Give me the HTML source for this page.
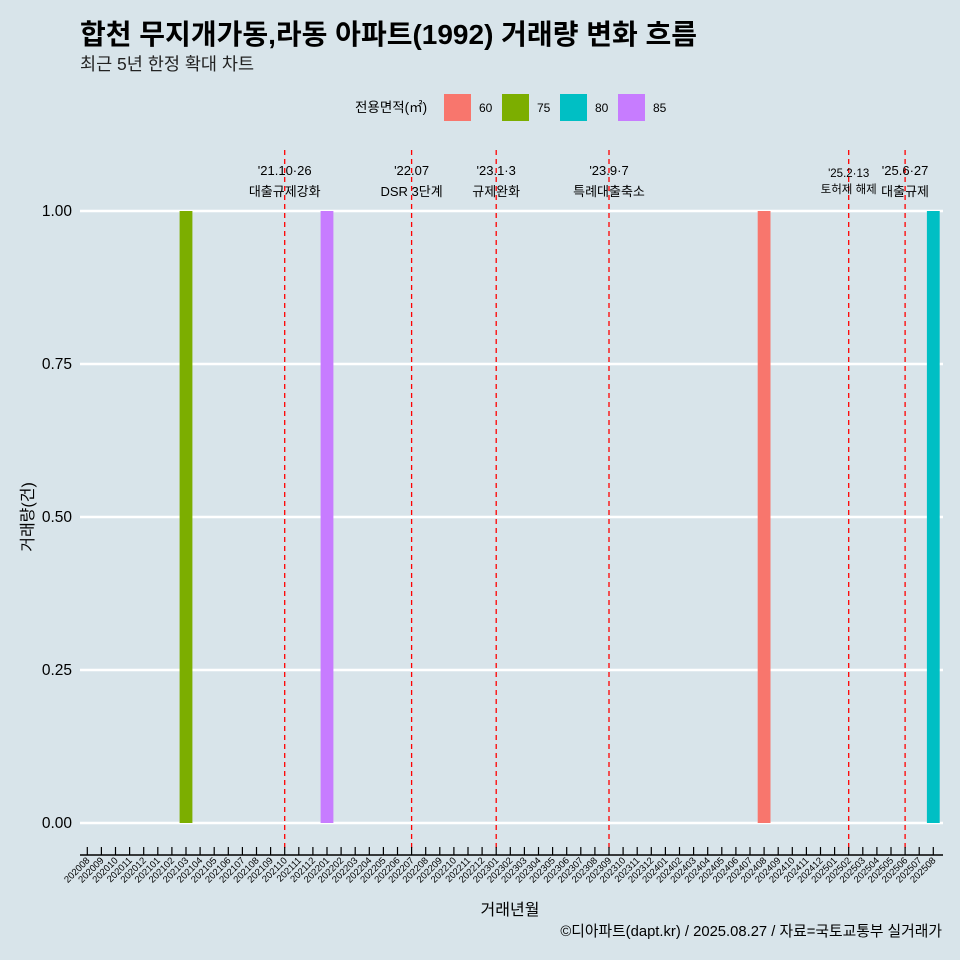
<!DOCTYPE html>
<html><head><meta charset="utf-8"><style>
body{margin:0;background:#d8e4ea;}
svg{display:block;font-family:"Liberation Sans","Noto Sans CJK KR",sans-serif;}
</style></head><body>
<svg id="c" width="960" height="960" viewBox="0 0 960 960">
<rect width="960" height="960" fill="#d8e4ea"/>
<text x="80" y="44" font-size="28" font-weight="bold" fill="#000">합천 무지개가동,라동 아파트(1992) 거래량 변화 흐름</text>
<text x="80" y="70" font-size="17.5" fill="#222">최근 5년 한정 확대 차트</text>
<g font-size="12">
<text x="355" y="112" font-size="13.5">전용면적(㎡)</text>
<rect x="444" y="94" width="27" height="27" fill="#f8766d"/><text x="479" y="112">60</text>
<rect x="502" y="94" width="27" height="27" fill="#7cae00"/><text x="537" y="112">75</text>
<rect x="560" y="94" width="27" height="27" fill="#00bfc4"/><text x="595" y="112">80</text>
<rect x="618" y="94" width="27" height="27" fill="#c77cff"/><text x="653" y="112">85</text>
</g>
<g id="grid"></g><g id="bars"></g><g id="vl"></g><g id="xa"></g><g id="ya"></g>
<text x="510" y="915" font-size="16" text-anchor="middle">거래년월</text>
<text transform="translate(33,517) rotate(-90)" font-size="16" text-anchor="middle">거래량(건)</text>
<text x="942" y="936" font-size="14.8" text-anchor="end">©디아파트(dapt.kr) / 2025.08.27 / 자료=국토교통부 실거래가</text>
</svg>
<script>
const months=[];for(let y=2020;y<=2025;y++)for(let m=1;m<=12;m++){const k=y*100+m;if(k>=202008&&k<=202508)months.push(String(k));}
const barMonths=["202103","202201","202408","202508"];
const barValues=[1,1,1,1];
const barAreas=["75","85","60","80"];
const yTicks=[0,0.25,0.5,0.75,1];
const yTickLabels=["0.00","0.25","0.50","0.75","1.00"];
const eventMonths=["202110","202207","202301","202309","202502","202506"];
const eventDates=["'21.10·26","'22.07","'23.1·3","'23.9·7","'25.2·13","'25.6·27"];
const eventNames=["대출규제강화","DSR 3단계","규제완화","특례대출축소","토허제 해제","대출규제"];
const colors={"60":"#f8766d","75":"#7cae00","80":"#00bfc4","85":"#c77cff"};
const NS="http://www.w3.org/2000/svg";
const x0=87.3,step=14.1;
const X=m=>x0+months.indexOf(m)*step;
const Y=v=>823-v*612;
function mk(t,a,p){const e=document.createElementNS(NS,t);for(const k in a)e.setAttribute(k,a[k]);document.getElementById(p).appendChild(e);return e;}
yTicks.forEach((v,i)=>{
 const l=mk('line',{x1:80,x2:943,y1:Y(v),y2:Y(v),stroke:'#fff','stroke-width':2.5},'grid');
 
 
 const t=mk('text',{x:72,y:Y(v)+5,'font-size':15.5,'text-anchor':'end'},'ya');t.textContent=yTickLabels[i];
 
 
});
barMonths.forEach((m,i)=>{
 const r=mk('rect',{x:X(m)-6.4,y:Y(barValues[i]),width:12.8,height:Y(0)-Y(barValues[i]),fill:colors[barAreas[i]]},'bars');
 
 
});
eventMonths.forEach((m,i)=>{
 const x=X(m);
 const l=mk('line',{x1:x,x2:x,y1:150,y2:850,stroke:'#ff0000','stroke-width':1.3,'stroke-dasharray':'5,4'},'vl');
 
 
 const small=m>="202502"&&m<"202506";
 const fs=small?11.5:13;
 const t1=mk('text',{x:x,y:small?177:175,'font-size':fs,'text-anchor':'middle'},'vl');t1.textContent=eventDates[i];
 
 
 const t2=mk('text',{x:x,y:small?193:196,'font-size':fs,'text-anchor':'middle'},'vl');t2.textContent=eventNames[i];
 
 
});
const ax=mk('line',{x1:80,x2:943,y1:855,y2:855,stroke:'#000','stroke-width':1.5},'xa');


months.forEach(m=>{
 const x=X(m);
 const tk=mk('line',{x1:x,x2:x,y1:847,y2:855,stroke:'#000','stroke-width':1.2},'xa');
 
 
 const t=mk('text',{transform:`translate(${x+3},${861}) rotate(-45)`,'font-size':9.5,'text-anchor':'end'},'xa');t.textContent=m;
 
 
});
</script>
</body></html>
